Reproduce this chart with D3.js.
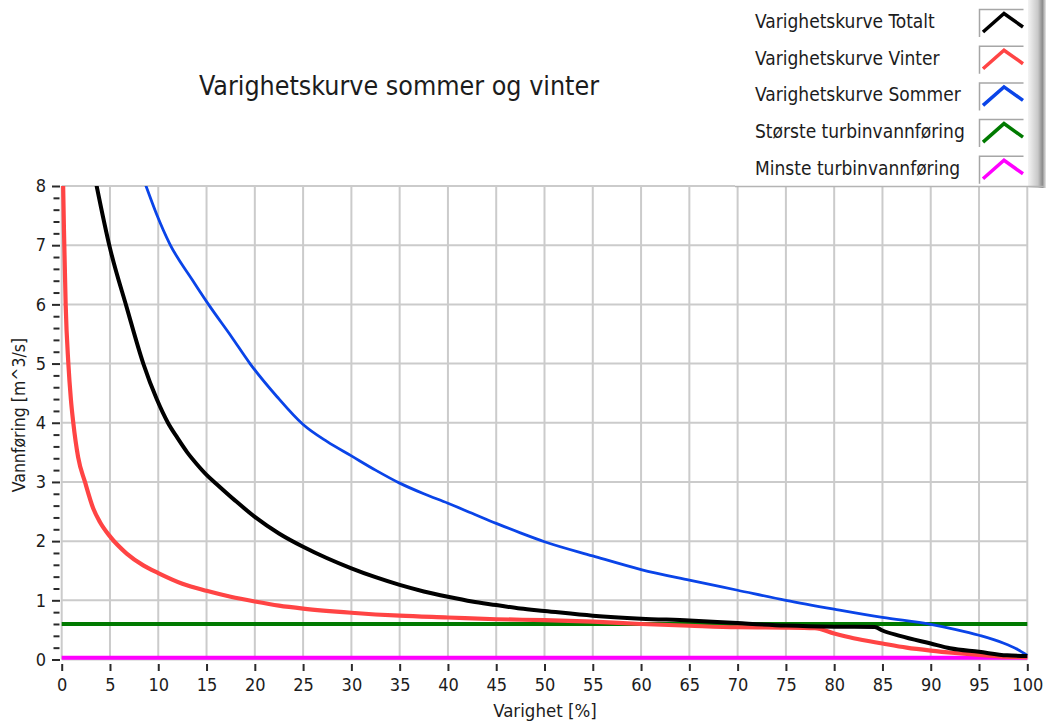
<!DOCTYPE html>
<html>
<head>
<meta charset="utf-8">
<script src="https://cdn.jsdelivr.net/npm/d3@7"></script>
<style>
  html, body { margin: 0; padding: 0; background: #fff; }
  svg { display: block; }
  text { font-family: "DejaVu Sans Condensed", "DejaVu Sans", sans-serif; fill: #1c1c1c; }
</style>
</head>
<body>
<svg id="chart" width="1048" height="726"></svg>
<script>
// Duration curves (flow exceeded x % of the time)
const totaltX = [3.35, 3.62, 5.0, 6.73, 8.45, 9.84, 11.0, 12.0, 13.0, 14.0, 15.0, 16.0, 18.0, 20.0, 22.5, 25.0, 27.5, 30.0, 32.5, 35.0, 37.5, 40.0, 42.5, 45.0, 47.5, 50.0, 55.0, 60.0, 65.0, 70.0, 75.0, 80.0, 84.2, 85.0, 86.8, 90.0, 92.0, 95.0, 97.9, 100.0];
const totaltY = [8.22, 8.0, 6.95, 5.95, 5.0, 4.4, 4.0, 3.74, 3.5, 3.3, 3.12, 2.97, 2.68, 2.41, 2.13, 1.905, 1.71, 1.54, 1.39, 1.26, 1.15, 1.06, 0.98, 0.92, 0.86, 0.82, 0.74, 0.69, 0.66, 0.615, 0.575, 0.555, 0.55, 0.49, 0.40, 0.27, 0.19, 0.13, 0.07, 0.06];

const vinterX = [0.0, 0.08, 0.15, 0.27, 0.41, 0.69, 0.95, 1.2, 1.7, 2.41, 3.27, 3.97, 5.0, 6.73, 8.45, 10.0, 12.5, 15.0, 17.5, 20.0, 22.5, 25.0, 30.0, 35.0, 40.0, 45.0, 50.0, 55.0, 60.0, 65.0, 70.0, 75.0, 78.0, 80.0, 82.0, 85.0, 87.5, 90.0, 92.5, 95.0, 97.5, 100.0];
const vinterY = [14.0, 9.0, 8.0, 7.0, 6.0, 5.0, 4.4, 4.0, 3.42, 3.0, 2.55, 2.32, 2.08, 1.79, 1.59, 1.46, 1.28, 1.16, 1.06, 0.98, 0.91, 0.86, 0.79, 0.74, 0.71, 0.68, 0.665, 0.64, 0.60, 0.57, 0.545, 0.54, 0.53, 0.44, 0.36, 0.27, 0.2, 0.15, 0.11, 0.077, 0.05, 0.04];

const sommerX = [8.5, 8.73, 9.84, 11.2, 13.5, 15.2, 17.6, 19.5, 22.3, 25.0, 27.5, 30.0, 32.5, 35.0, 37.5, 40.0, 42.5, 45.0, 47.5, 50.0, 55.0, 60.0, 65.0, 70.0, 75.0, 80.0, 85.0, 90.0, 92.5, 95.0, 97.5, 99.0, 100.0];
const sommerY = [8.1, 8.0, 7.52, 7.02, 6.42, 6.0, 5.45, 5.0, 4.44, 3.97, 3.68, 3.44, 3.2, 2.98, 2.8, 2.64, 2.47, 2.30, 2.14, 1.99, 1.75, 1.52, 1.34, 1.17, 1.0, 0.85, 0.71, 0.595, 0.51, 0.41, 0.28, 0.17, 0.07];

// Turbine limits (constant flows)
const limitX = [0, 100];
const stoersteY = [0.6, 0.6];
const minsteY = [0.03, 0.03];

const xTicks = d3.range(0, 101, 5);
const yTicks = [0, 1, 2, 3, 4, 5, 6, 7, 8];
const yMinorTicks = d3.range(0, 8.001, 0.2).filter(v => Math.abs(v - Math.round(v)) > 1e-6);

const seriesNames = ["Varighetskurve Totalt", "Varighetskurve Vinter", "Varighetskurve Sommer", "Største turbinvannføring", "Minste turbinvannføring"];
const seriesColors = ["#000000", "#ff4444", "#0a44e8", "#007a00", "#ff00ff"];

const titleText = "Varighetskurve sommer og vinter";
const xLabel = "Varighet [%]";
const yLabel = "Vannføring [m^3/s]";

// ---- layout ----
const svg = d3.select("#chart");
const plotLeft = 61.7, plotRight = 1027.3, plotTop = 186, plotBottom = 659.5;

const x = d3.scaleLinear().domain([0, 100]).range([plotLeft, plotRight]);
const y = d3.scaleLinear().domain([0, 8]).range([plotBottom, plotTop]);

// grid
const grid = svg.append("g").attr("stroke", "#cbcbcb").attr("stroke-width", 2);
grid.selectAll("line.v").data(xTicks).join("line").attr("class", "v")
  .attr("x1", d => x(d)).attr("x2", d => x(d))
  .attr("y1", plotTop).attr("y2", plotBottom);
grid.selectAll("line.h").data(yTicks).join("line").attr("class", "h")
  .attr("x1", plotLeft).attr("x2", plotRight)
  .attr("y1", d => y(d)).attr("y2", d => y(d));

// axes
const yAxisMajor = d3.axisLeft(y).tickValues(yTicks).tickSize(8).tickPadding(6).tickFormat(d3.format("d"));
const yAxisMinor = d3.axisLeft(y).tickValues(yMinorTicks).tickSize(6).tickFormat("");
const xAxis = d3.axisBottom(x).tickValues(xTicks).tickSize(7).tickPadding(7).tickFormat(d3.format("d"));

function styleAxis(g) {
  g.select(".domain").remove();
  g.selectAll(".tick line").attr("stroke", "#2a2a2a").attr("stroke-width", 2);
  g.selectAll(".tick text").attr("font-size", 18).attr("fill", "#1c1c1c")
    .attr("font-family", "DejaVu Sans Condensed, DejaVu Sans, sans-serif");
}
svg.append("g").attr("transform", "translate(59.5,0)").call(yAxisMinor).call(styleAxis);
svg.append("g").attr("transform", "translate(60,0)").call(yAxisMajor).call(styleAxis);
svg.append("g").attr("transform", "translate(0,664)").call(xAxis).call(styleAxis);

// curves
svg.append("clipPath").attr("id", "plotClip")
  .append("rect").attr("x", plotLeft - 2).attr("y", plotTop)
  .attr("width", plotRight - plotLeft + 4).attr("height", plotBottom - plotTop + 4);

const line = d3.line().x(d => x(d[0])).y(d => y(d[1])).curve(d3.curveMonotoneX);
const zipXY = (xs, ys) => xs.map((v, i) => [v, ys[i]]);

const curves = [
  { data: zipXY(limitX, minsteY), color: seriesColors[4], width: 4 },
  { data: zipXY(limitX, stoersteY), color: seriesColors[3], width: 4 },
  { data: zipXY(sommerX, sommerY), color: seriesColors[2], width: 2.8 },
  { data: zipXY(vinterX, vinterY), color: seriesColors[1], width: 4.2 },
  { data: zipXY(totaltX, totaltY), color: seriesColors[0], width: 4 }
];
const plot = svg.append("g").attr("clip-path", "url(#plotClip)");
plot.selectAll("path").data(curves).join("path")
  .attr("d", d => line(d.data))
  .attr("fill", "none")
  .attr("stroke", d => d.color)
  .attr("stroke-width", d => d.width)
  .attr("stroke-linejoin", "round");

// title and axis labels
svg.append("text").attr("x", 399).attr("y", 95).attr("text-anchor", "middle")
  .attr("font-size", 26.6).text(titleText);
svg.append("text").attr("x", 545).attr("y", 717).attr("text-anchor", "middle")
  .attr("font-size", 18.5).text(xLabel);
svg.append("text").attr("transform", "translate(25,415) rotate(-90)").attr("text-anchor", "middle")
  .attr("font-size", 17.5).text(yLabel);

// legend panel
const defs = svg.append("defs");
const grad = defs.append("linearGradient").attr("id", "legendShade").attr("x1", 0).attr("x2", 1).attr("y1", 0).attr("y2", 0);
grad.append("stop").attr("offset", "0%").attr("stop-color", "#f4f4f4");
grad.append("stop").attr("offset", "55%").attr("stop-color", "#c8c8c8");
grad.append("stop").attr("offset", "80%").attr("stop-color", "#8c8c8c");
grad.append("stop").attr("offset", "100%").attr("stop-color", "#e8e8e8");

const legend = svg.append("g");
legend.append("rect").attr("x", 735).attr("y", 0).attr("width", 293).attr("height", 186).attr("fill", "#fff");
legend.append("rect").attr("x", 1028).attr("y", 0).attr("width", 18).attr("height", 188).attr("fill", "url(#legendShade)");
legend.append("line").attr("x1", 735).attr("x2", 1044).attr("y1", 186.5).attr("y2", 186.5)
  .attr("stroke", "#b4b4b4").attr("stroke-width", 1.5);

const rowStep = 36.7;
const rows = legend.selectAll("g.row").data(seriesNames).join("g").attr("class", "row")
  .attr("transform", (d, i) => `translate(0,${i * rowStep})`);
rows.append("text").attr("x", 755).attr("y", 28).attr("font-size", 19).text(d => d);
rows.append("path").attr("d", "M979.5,37 V9.5 H1023.5")
  .attr("fill", "none").attr("stroke", "#a6a6a6").attr("stroke-width", 1.5);
rows.append("polyline").attr("points", "983,32 1004,13.5 1023,27")
  .attr("fill", "none").attr("stroke", (d, i) => seriesColors[i]).attr("stroke-width", 3.5);
</script>
</body>
</html>
